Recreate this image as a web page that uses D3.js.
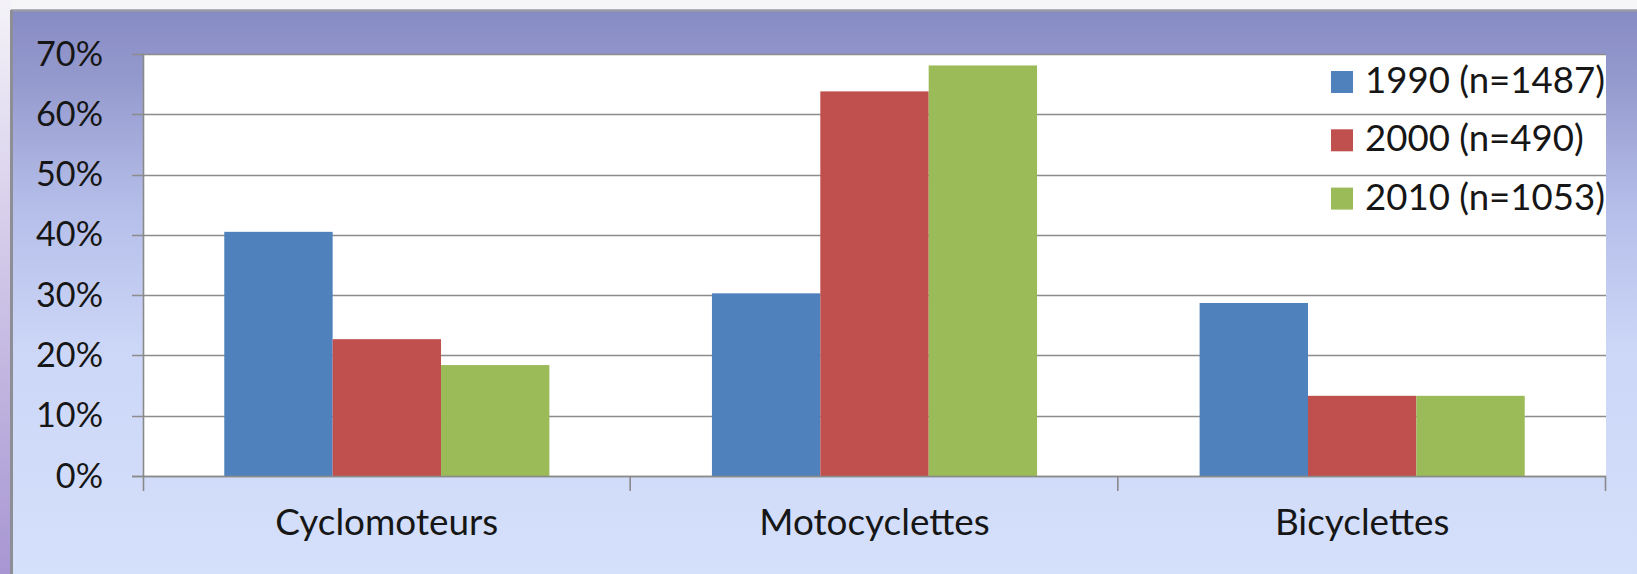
<!DOCTYPE html>
<html>
<head>
<meta charset="utf-8">
<script src="https://cdn.jsdelivr.net/npm/d3@7/dist/d3.min.js"></script>
<style>
  html, body { margin: 0; padding: 0; background: #ffffff; }
  svg { display: block; }
  text { font-family: Lato, "Open Sans", "DejaVu Sans", sans-serif; fill: #161616; }
</style>
</head>
<body>
<svg id="chart" width="1637" height="574"></svg>
<script>
// ---- data ----
const categories = ["Cyclomoteurs", "Motocyclettes", "Bicyclettes"];
const seriesNames = ["1990 (n=1487)", "2000 (n=490)", "2010 (n=1053)"];
const values1990 = [0.405, 0.303, 0.287];
const values2000 = [0.227, 0.638, 0.133];
const values2010 = [0.184, 0.681, 0.133];
const yTicks = [0, 0.1, 0.2, 0.3, 0.4, 0.5, 0.6, 0.7];
const seriesColors = ["#4f81bd", "#c0504d", "#9bbb59"];

const seriesValues = [values1990, values2000, values2010];

// ---- layout ----
const W = 1637, H = 574;
const plot = { left: 143, right: 1606, top: 54, bottom: 476 };
const svg = d3.select("#chart");
const defs = svg.append("defs");

// background gradients
const bg = defs.append("linearGradient").attr("id", "bg").attr("x1", 0).attr("y1", 0).attr("x2", 0).attr("y2", 1);
[["0%", "#878bc4"], ["12%", "#9499cd"], ["35%", "#b5bee9"], ["60%", "#ccd6f7"], ["100%", "#d5e0fb"]]
  .forEach(([o, c]) => bg.append("stop").attr("offset", o).attr("stop-color", c));
const side = defs.append("linearGradient").attr("id", "side").attr("x1", 0).attr("y1", 0).attr("x2", 0).attr("y2", 1);
[["0%", "#f4f2f8"], ["30%", "#ddd6ee"], ["100%", "#a796d2"]]
  .forEach(([o, c]) => side.append("stop").attr("offset", o).attr("stop-color", c));

svg.append("rect").attr("x", 0).attr("y", 0).attr("width", W).attr("height", H).attr("fill", "#f6f6f9");
svg.append("rect").attr("x", 0).attr("y", 0).attr("width", 11).attr("height", H).attr("fill", "url(#side)");
svg.append("rect").attr("x", 11).attr("y", 10).attr("width", W - 11).attr("height", H - 10).attr("fill", "url(#bg)");
// frame border (top + left)
svg.append("line").attr("x1", 11).attr("x2", W).attr("y1", 10.5).attr("y2", 10.5).attr("stroke", "#9a9aa6").attr("stroke-width", 2.5);
svg.append("line").attr("x1", 11.5).attr("x2", 11.5).attr("y1", 10).attr("y2", H).attr("stroke", "#8e8e96").attr("stroke-width", 3);

// plot area
svg.append("rect").attr("x", plot.left).attr("y", plot.top)
  .attr("width", plot.right - plot.left).attr("height", plot.bottom - plot.top).attr("fill", "#ffffff");

// scales
const x0 = d3.scaleBand().domain(categories).range([plot.left, plot.right]).paddingInner(0).paddingOuter(0);
const x1 = d3.scaleBand().domain(d3.range(seriesNames.length)).range([0, x0.bandwidth()]).paddingInner(0).paddingOuter(0.75);
const y = d3.scaleLinear().domain([0, 0.7]).range([plot.bottom, plot.top]);

// gridlines
svg.append("g").selectAll("line").data(yTicks).join("line")
  .attr("x1", plot.left - 11).attr("x2", plot.right)
  .attr("y1", d => Math.round(y(d)) + 0.5).attr("y2", d => Math.round(y(d)) + 0.5)
  .attr("stroke", "#8c8c8c").attr("stroke-width", 1.6);

// bars
const groups = svg.append("g").selectAll("g").data(categories).join("g")
  .attr("transform", d => `translate(${x0(d)},0)`);
groups.selectAll("rect").data((c, ci) => seriesValues.map((vals, si) => ({ si, v: vals[ci] }))).join("rect")
  .attr("x", d => x1(d.si)).attr("width", x1.bandwidth())
  .attr("y", d => y(d.v)).attr("height", d => y(0) - y(d.v))
  .attr("fill", d => seriesColors[d.si]);

// y axis line
svg.append("line").attr("x1", plot.left + 0.5).attr("x2", plot.left + 0.5)
  .attr("y1", plot.top).attr("y2", plot.bottom + 15).attr("stroke", "#8a8a8a").attr("stroke-width", 1.6);
// x axis with category tick marks
svg.append("line").attr("x1", plot.left - 11).attr("x2", plot.right)
  .attr("y1", plot.bottom + 0.5).attr("y2", plot.bottom + 0.5).attr("stroke", "#8a8a8a").attr("stroke-width", 1.6);
const catEdges = categories.map(c => x0(c)).concat([plot.right]);
svg.append("g").selectAll("line").data(catEdges.slice(1)).join("line")
  .attr("x1", d => d - 0.5).attr("x2", d => d - 0.5)
  .attr("y1", plot.bottom).attr("y2", plot.bottom + 15)
  .attr("stroke", "#8a8a8a").attr("stroke-width", 1.6);

// font fitting helper
function fitSize(sampleText, targetWidth, base) {
  const t = svg.append("text").attr("font-size", base).text(sampleText);
  const w = t.node().getComputedTextLength();
  t.remove();
  return base * targetWidth / w;
}
const yFont = fitSize("70%", 67, 36);
const catFont = fitSize("Cyclomoteurs", 223, 36);
const legFont = fitSize("1990 (n=1487)", 240, 36);

// y tick labels
const fmt = d3.format(".0%");
svg.append("g").selectAll("text").data(yTicks).join("text")
  .attr("x", 103).attr("y", d => y(d) + 11.5)
  .attr("text-anchor", "end").attr("font-size", yFont)
  .text(d => fmt(d));

// category labels
svg.append("g").selectAll("text").data(categories).join("text")
  .attr("x", d => x0(d) + x0.bandwidth() / 2).attr("y", 535)
  .attr("text-anchor", "middle").attr("font-size", catFont)
  .text(d => d);

// legend
const leg = svg.append("g").selectAll("g").data(seriesNames).join("g")
  .attr("transform", (d, i) => `translate(1331,${93 + i * 58.3})`);
leg.append("rect").attr("x", 0).attr("y", -22).attr("width", 22).attr("height", 22)
  .attr("fill", (d, i) => seriesColors[i]);
leg.append("text").attr("x", 34).attr("y", 0).attr("font-size", legFont).text(d => d);
</script>
</body>
</html>
